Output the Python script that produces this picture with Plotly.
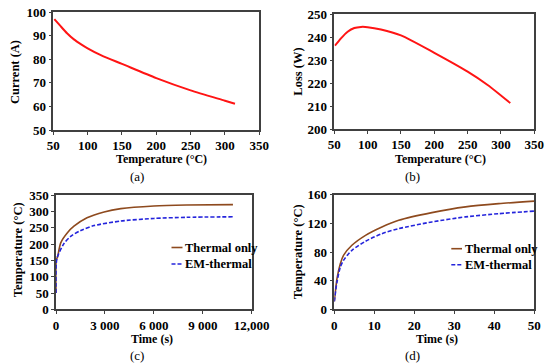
import plotly.graph_objects as go

# (a) Current vs temperature
temp_a = [51.5, 60, 70, 80, 90, 100, 120, 150, 200, 250, 300, 314.6]
current_a = [97.0, 94.2, 91.0, 88.4, 86.4, 84.6, 81.6, 78.0, 72.0, 66.8, 62.4, 61.1]

# (b) Loss vs temperature
temp_b = [51, 60, 70, 80, 90, 100, 120, 150, 200, 250, 280, 314]
loss_b = [236.3, 239.5, 242.4, 244.0, 244.5, 244.4, 243.4, 240.8, 233.2, 225.0, 219.2, 211.3]

# (c) Temperature vs time (long)
time_c = [0, 15, 100, 290, 700, 1100, 1900, 2950, 3975, 6000, 8000, 10850]
thermal_c = [50, 150, 162, 204, 235, 255, 281, 299, 309, 317, 320, 321.5]
time_c_em = [0, 15, 80, 490, 900, 1520, 2340, 3975, 6000, 8000, 10850]
em_c = [50, 140, 160, 202, 224, 242, 257, 271, 279, 282.5, 284]
ticks_c = [0, 3000, 6000, 9000, 12000]
ticklabels_c = ["0", "3 000", "6 000", "9 000", "12,000"]

# (d) Temperature vs time (short)
time_d = [0, 0.67, 1.5, 2.3, 4.4, 7.8, 11.9, 16.1, 24.4, 32.8, 41.1, 50]
thermal_d = [11, 42.7, 63.7, 75.4, 89.4, 103.3, 115, 124.3, 135, 143, 147.5, 151]
em_d = [11, 38, 59, 68.4, 82.4, 95, 105.6, 112.6, 122, 129, 133.5, 137.1]

captions = ["(a)", "(b)", "(c)", "(d)"]
xtitles = ["Temperature (°C)", "Temperature (°C)", "Time (s)", "Time (s)"]
ytitles = ["Current (A)", "Loss (W)", "Temperature (°C)", "Temperature (°C)"]
legend_names = ["Thermal only", "EM-thermal"]

FONT = "Liberation Serif"
RED = "#ff1414"
BROWN = "#8e4a1e"
BLUE = "#2424dc"
AX = "#404040"
SM = 0.7

fig = go.Figure()
fig.add_trace(go.Scatter(x=temp_a, y=current_a, mode="lines",
                         line=dict(color=RED, width=2, shape="spline", smoothing=SM),
                         xaxis="x", yaxis="y", showlegend=False))
fig.add_trace(go.Scatter(x=temp_b, y=loss_b, mode="lines",
                         line=dict(color=RED, width=2, shape="spline", smoothing=SM),
                         xaxis="x2", yaxis="y2", showlegend=False))
fig.add_trace(go.Scatter(x=time_c, y=thermal_c, mode="lines",
                         line=dict(color=BROWN, width=1.6, shape="spline", smoothing=SM),
                         xaxis="x3", yaxis="y3", showlegend=False))
fig.add_trace(go.Scatter(x=time_c_em, y=em_c, mode="lines",
                         line=dict(color=BLUE, width=1.6, dash="4px,2px", shape="spline", smoothing=SM),
                         xaxis="x3", yaxis="y3", showlegend=False))
fig.add_trace(go.Scatter(x=time_d, y=thermal_d, mode="lines",
                         line=dict(color=BROWN, width=1.6, shape="spline", smoothing=SM),
                         xaxis="x4", yaxis="y4", showlegend=False))
fig.add_trace(go.Scatter(x=time_d, y=em_d, mode="lines",
                         line=dict(color=BLUE, width=1.6, dash="4px,2px", shape="spline", smoothing=SM),
                         xaxis="x4", yaxis="y4", showlegend=False))

tickfont = dict(family=FONT, size=13, color="black", weight="bold")

def ax(domain, rng, dtick=None, anchor=None, **kw):
    d = dict(domain=domain, range=rng, showgrid=False, zeroline=False,
             showline=True, linecolor=AX, linewidth=1.5, mirror=True,
             ticks="outside", ticklen=3, tickcolor=AX, tickwidth=1,
             tickfont=tickfont, anchor=anchor, automargin=False,
             ticklabeloverflow="allow")
    if dtick is not None:
        d["dtick"] = dtick
    d.update(kw)
    return d

W, H = 550, 364
def px2x(sx):
    return sx / W
def px2y(sy):
    return 1 - sy / H
def fx(a, b):
    return [px2x(a), px2x(b)]
def fy(top, bot):
    return [px2y(bot), px2y(top)]

fig.update_layout(
    width=W, height=H, margin=dict(l=0, r=0, t=0, b=0, autoexpand=False),
    paper_bgcolor="white", plot_bgcolor="white",
    xaxis=ax(fx(53.3, 259.3), [50, 350], 50, "y", tick0=50),
    yaxis=ax(fy(12, 130), [50, 100], 10, "x"),
    xaxis2=ax(fx(334.3, 534.3), [50, 350], 50, "y2", tick0=50),
    yaxis2=ax(fy(14.3, 129), [200, 250], 10, "x2"),
    xaxis3=ax(fx(56, 251.7), [0, 12000], None, "y3",
              tickmode="array", tickvals=ticks_c, ticktext=ticklabels_c),
    yaxis3=ax(fy(195.3, 309.3), [0, 350], 50, "x3"),
    xaxis4=ax(fx(334.3, 534.3), [0, 50], 10, "y4"),
    yaxis4=ax(fy(194.7, 309.3), [0, 160], 40, "x4"),
)

def ann(text, sx, sy, size=12, bold=True, angle=0, xanchor="center"):
    fig.add_annotation(text=text, x=px2x(sx), y=px2y(sy), xref="paper", yref="paper",
                       showarrow=False, textangle=angle, xanchor=xanchor, yanchor="middle",
                       font=dict(family=FONT, size=size, color="black",
                                 weight="bold" if bold else "normal"))

# axis titles
xt_pos = [(161.7, 159), (440, 158.5), (151.7, 339), (436.7, 339)]
yt_pos = [(15, 72), (297.7, 72), (18.3, 250), (298.3, 252)]
for t, (sx, sy) in zip(xtitles, xt_pos):
    ann(t, sx, sy, size=12)
for t, (sx, sy) in zip(ytitles, yt_pos):
    ann(t, sx, sy, size=12.5, angle=-90)

# captions
cap_pos = [(137, 176), (412, 176), (137, 355), (412, 355)]
for txt, (sx, sy) in zip(captions, cap_pos):
    ann(txt, sx, sy, size=13, bold=False)

# legends (drawn as lines + text inside panels c and d)
legend_styles = [dict(color=BROWN, width=1.6), dict(color=BLUE, width=1.6, dash="4px,2px")]
for (ys_px, x0, x1, tx) in [
    ([247.5, 264.0], 171.5, 182.5, 183),
    ([248.7, 264.7], 451.3, 462, 462.5),
]:
    for name, st, sy in zip(legend_names, legend_styles, ys_px):
        fig.add_shape(type="line", xref="paper", yref="paper",
                      x0=px2x(x0), x1=px2x(x1), y0=px2y(sy), y1=px2y(sy), line=st)
        ann(name, tx, sy, size=12.5, xanchor="left")

# remove the browser's default 8px body margin so the figure sits at (0, 0)
fig.write_html("out.html", config={"displayModeBar": False},
               post_script="document.body.style.margin='0';")
